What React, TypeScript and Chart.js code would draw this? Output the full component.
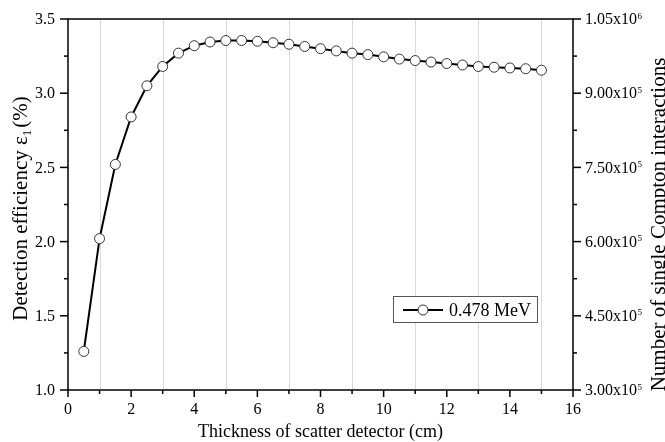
import { useEffect, useRef } from "react";
import { Chart, registerables } from "chart.js";

Chart.register(...registerables);

// ---- data ----
const thickness = [
  0.5, 1, 1.5, 2, 2.5, 3, 3.5, 4, 4.5, 5, 5.5, 6, 6.5, 7, 7.5, 8, 8.5, 9, 9.5,
  10, 10.5, 11, 11.5, 12, 12.5, 13, 13.5, 14, 14.5, 15,
];
const efficiency = [
  1.26, 2.02, 2.52, 2.84, 3.05, 3.18, 3.27, 3.32, 3.345, 3.355, 3.355, 3.35,
  3.34, 3.33, 3.315, 3.3, 3.285, 3.27, 3.26, 3.245, 3.23, 3.22, 3.21, 3.2,
  3.19, 3.18, 3.175, 3.17, 3.165, 3.155,
];
const xTickValues = [0, 2, 4, 6, 8, 10, 12, 14, 16];
const leftTickValues = [1.0, 1.5, 2.0, 2.5, 3.0, 3.5];
const rightTickValues = [300000, 450000, 600000, 750000, 900000, 1050000];
const seriesLabel = "0.478 MeV";
const xTitle = "Thickness of scatter detector (cm)";
const leftTitleParts = ["Detection efficiency ε", "1", "(%)"];
const rightTitle = "Number of single Compton interactions";

const SERIF = '"Liberation Serif", "Times New Roman", serif';

function drawTicks(
  values: number[],
  toPx: (v: number) => number,
  draw: (p: number, len: number) => void,
  major: number,
  minor: number
) {
  values.forEach((v, i) => {
    draw(toPx(v), major);
    if (i < values.length - 1) draw(toPx((v + values[i + 1]) / 2), minor);
  });
}

const decorPlugin = {
  id: "decor",
  beforeDatasetsDraw(chart: any) {
    const { ctx, chartArea } = chart;
    const xs = chart.scales.x;
    ctx.save();
    ctx.strokeStyle = "#d9d9d9";
    ctx.lineWidth = 1;
    for (let i = 0; i < xTickValues.length - 1; i++) {
      const v = (xTickValues[i] + xTickValues[i + 1]) / 2;
      const px = Math.round(xs.getPixelForValue(v)) + 0.5;
      ctx.beginPath();
      ctx.moveTo(px, chartArea.top);
      ctx.lineTo(px, chartArea.bottom);
      ctx.stroke();
    }
    ctx.restore();
  },
  afterDraw(chart: any) {
    const { ctx } = chart;
    const { left, right, top, bottom } = chart.chartArea;
    const xs = chart.scales.x;
    const ys = chart.scales.y;
    const y2 = chart.scales.y2;
    ctx.save();
    ctx.strokeStyle = "#000";
    ctx.lineWidth = 1.5;
    ctx.strokeRect(left, top, right - left, bottom - top);

    const line = (x1: number, y1: number, x2: number, yy2: number) => {
      ctx.beginPath();
      ctx.moveTo(x1, y1);
      ctx.lineTo(x2, yy2);
      ctx.stroke();
    };
    drawTicks(xTickValues, (v) => xs.getPixelForValue(v), (p, l) => line(p, bottom, p, bottom + l), 7, 4);
    drawTicks(leftTickValues, (v) => ys.getPixelForValue(v), (p, l) => line(left, p, left - l, p), 8, 4);
    drawTicks(rightTickValues, (v) => y2.getPixelForValue(v), (p, l) => line(right, p, right + l, p), 8, 4);

    ctx.fillStyle = "#000";
    ctx.font = `16px ${SERIF}`;
    ctx.textAlign = "center";
    ctx.textBaseline = "alphabetic";
    xTickValues.forEach((v) => ctx.fillText(String(v), xs.getPixelForValue(v), bottom + 23.5));
    ctx.textAlign = "right";
    ctx.textBaseline = "middle";
    leftTickValues.forEach((v) => ctx.fillText(v.toFixed(1), left - 13, ys.getPixelForValue(v) + 1));
    ctx.textAlign = "left";
    rightTickValues.forEach((v) => {
      const exp = Math.floor(Math.log10(v));
      const mant = (v / Math.pow(10, exp)).toFixed(2);
      const base = `${mant}x10`;
      const py = y2.getPixelForValue(v);
      ctx.font = `16px ${SERIF}`;
      ctx.textBaseline = "middle";
      const bx = right + 12;
      ctx.fillText(base, bx, py + 1);
      const w = ctx.measureText(base).width;
      ctx.font = `9px ${SERIF}`;
      ctx.textBaseline = "alphabetic";
      ctx.fillText(String(exp), bx + w + 0.5, py - 0.5);
    });

    ctx.font = `18px ${SERIF}`;
    ctx.textAlign = "center";
    ctx.textBaseline = "alphabetic";
    ctx.fillText(xTitle, (left + right) / 2, bottom + 47);

    ctx.save();
    ctx.translate(27, (top + bottom) / 2 + 4);
    ctx.rotate(-Math.PI / 2);
    const big = `21px ${SERIF}`;
    const small = `13px ${SERIF}`;
    ctx.font = big;
    const w1 = ctx.measureText(leftTitleParts[0]).width;
    const w3 = ctx.measureText(leftTitleParts[2]).width;
    ctx.font = small;
    const w2 = ctx.measureText(leftTitleParts[1]).width;
    const total = w1 + w2 + 2 + w3;
    let cx = -total / 2;
    ctx.textAlign = "left";
    ctx.font = big;
    ctx.fillText(leftTitleParts[0], cx, 0);
    cx += w1;
    ctx.font = small;
    ctx.fillText(leftTitleParts[1], cx, 4);
    cx += w2 + 2;
    ctx.font = big;
    ctx.fillText(leftTitleParts[2], cx, 0);
    ctx.restore();

    ctx.save();
    ctx.translate(665, (top + bottom) / 2 + 20);
    ctx.rotate(-Math.PI / 2);
    ctx.font = `21px ${SERIF}`;
    ctx.textAlign = "center";
    ctx.textBaseline = "alphabetic";
    ctx.fillText(rightTitle, 0, 0);
    ctx.restore();

    const lx = 393;
    const ly = 296;
    const lw = 144;
    const lh = 26;
    ctx.fillStyle = "#fff";
    ctx.fillRect(lx, ly, lw, lh);
    ctx.strokeStyle = "#555";
    ctx.lineWidth = 1;
    ctx.strokeRect(lx + 0.5, ly + 0.5, lw, lh);
    const my = ly + 14;
    ctx.strokeStyle = "#000";
    ctx.lineWidth = 2;
    line(lx + 10, my, lx + 50, my);
    ctx.beginPath();
    ctx.arc(lx + 30, my, 5, 0, Math.PI * 2);
    ctx.fillStyle = "#fff";
    ctx.fill();
    ctx.strokeStyle = "#333";
    ctx.lineWidth = 1;
    ctx.stroke();
    ctx.fillStyle = "#000";
    ctx.font = `18px ${SERIF}`;
    ctx.textAlign = "left";
    ctx.textBaseline = "middle";
    ctx.fillText(seriesLabel, lx + 56, my + 1);

    ctx.restore();
  },
};

export default function App() {
  const canvasRef = useRef<HTMLCanvasElement | null>(null);

  useEffect(() => {
    if (!canvasRef.current) return;
    const chart = new Chart(canvasRef.current, {
      type: "line",
      data: {
        datasets: [
          {
            label: seriesLabel,
            data: thickness.map((t, i) => ({ x: t, y: efficiency[i] })),
            borderColor: "#000",
            borderWidth: 2,
            pointRadius: 5,
            pointBackgroundColor: "#fff",
            pointBorderColor: "#333",
            pointBorderWidth: 1,
            tension: 0,
            yAxisID: "y",
          },
        ],
      },
      options: {
        animation: false,
        responsive: true,
        maintainAspectRatio: false,
        layout: { padding: { top: 19, left: 0, right: 0, bottom: 0 } },
        plugins: { legend: { display: false }, tooltip: { enabled: false } },
        scales: {
          x: {
            type: "linear",
            min: 0,
            max: 16,
            grid: { display: false },
            border: { display: false },
            ticks: { display: false },
            afterFit: (s: any) => {
              s.height = 52;
            },
          },
          y: {
            type: "linear",
            position: "left",
            min: 1,
            max: 3.5,
            grid: { display: false },
            border: { display: false },
            ticks: { display: false },
            afterFit: (s: any) => {
              s.width = 68;
            },
          },
          y2: {
            type: "linear",
            position: "right",
            min: 300000,
            max: 1050000,
            grid: { display: false },
            border: { display: false },
            ticks: { display: false },
            afterFit: (s: any) => {
              s.width = 92;
            },
          },
        },
      } as any,
      plugins: [decorPlugin],
    });
    return () => chart.destroy();
  }, []);

  return (
    <div style={{ position: "fixed", left: 0, top: 0, width: 665, height: 442, background: "#fff" }}>
      <canvas ref={canvasRef} />
    </div>
  );
}
